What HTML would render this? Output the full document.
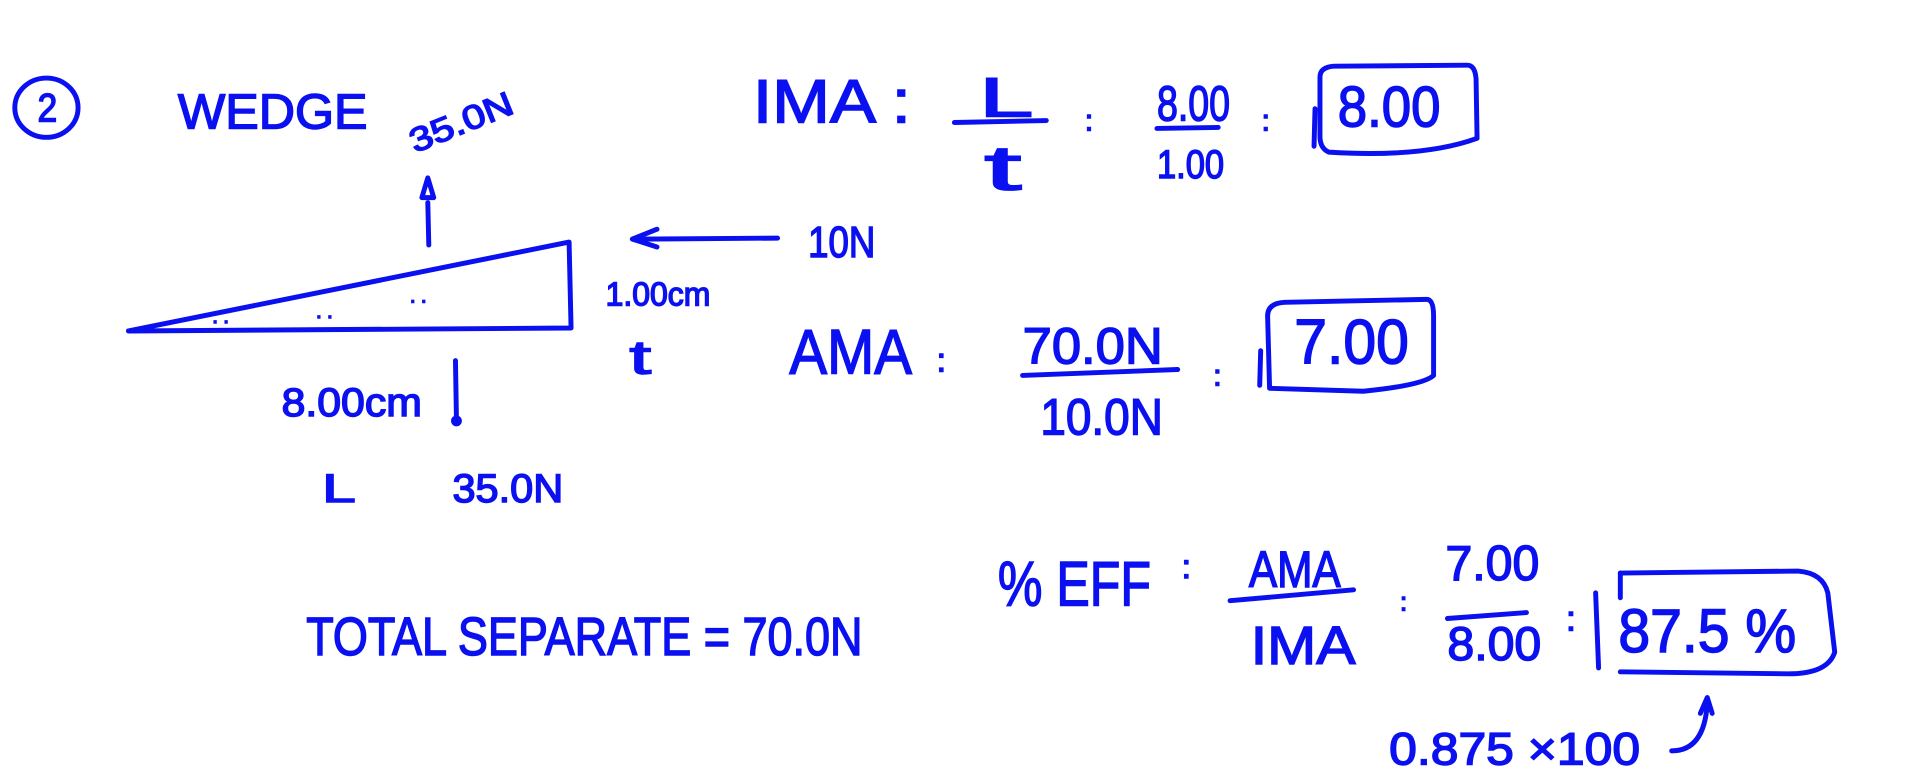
<!DOCTYPE html>
<html><head><meta charset="utf-8"><style>
html,body{margin:0;padding:0;background:#fff;width:1920px;height:780px;overflow:hidden}
svg text{font-family:"Liberation Sans Narrow","Liberation Sans",sans-serif;fill:#0a10f0;stroke:#0a10f0;stroke-width:1.5}
</style></head><body>
<svg width="1920" height="780" viewBox="0 0 1920 780" xmlns="http://www.w3.org/2000/svg">
<g transform="scale(0.988)">
<g fill="none" stroke="#0a10f0" stroke-width="5" stroke-linecap="round" stroke-linejoin="round">
<ellipse cx="47" cy="109" rx="32" ry="30"/>
<line x1="434" y1="248" x2="433" y2="205"/>
<path d="M427 200 L433 180 L439 200 Z"/>
<path d="M130 335 L576 245 L578 332 Z"/>
<line x1="648" y1="242" x2="787" y2="241"/>
<path d="M665 232 L640 242 L665 250"/>
<line x1="461" y1="365" x2="462" y2="425"/>
<circle cx="462" cy="426" r="3"/>
<line x1="966" y1="124" x2="1059" y2="122"/>
<line x1="1171" y1="130" x2="1233" y2="129"/>
<line x1="1035" y1="380" x2="1192" y2="374"/>
<line x1="1245" y1="608" x2="1370" y2="597"/>
<line x1="1465" y1="626" x2="1545" y2="620"/>
<path d="M1336 78 Q1336 68 1350 67 L1485 66 Q1493 66 1494 80 L1495 140 Q1440 160 1345 154 Q1336 150 1336 138 Z"/>
<line x1="1331" y1="110" x2="1330" y2="148"/>
<path d="M1283 320 Q1283 307 1300 306 L1444 303 Q1451 303 1451 320 L1451 380 Q1440 390 1380 396 L1285 393 Z"/>
<line x1="1276" y1="355" x2="1275" y2="390"/>
<path d="M1640 580 L1820 578 Q1845 580 1850 600 L1857 660 Q1850 682 1810 682 L1640 680"/>
<path d="M1640 580 L1640 605"/>
<line x1="1615" y1="600" x2="1618" y2="676"/>
<path d="M1728 712 Q1725 760 1692 760"/>
<path d="M1721 722 L1728 706 L1733 722"/>
</g>
<text x="38" y="123" font-size="40" textLength="20" lengthAdjust="spacingAndGlyphs">2</text>
<text x="180" y="130" font-size="50" textLength="192" lengthAdjust="spacingAndGlyphs">WEDGE</text>
<text x="0" y="0" font-size="34" textLength="110" lengthAdjust="spacingAndGlyphs" transform="translate(420,155) rotate(-22)">35.0N</text>
<text x="818" y="260" font-size="44" textLength="68" lengthAdjust="spacingAndGlyphs">10N</text>
<text x="613" y="309" font-size="34" textLength="106" lengthAdjust="spacingAndGlyphs">1.00cm</text>
<text x="215" y="327" font-size="20">. .</text><text x="320" y="322" font-size="20">.   .</text><text x="415" y="306" font-size="20">. .</text>
<text x="637" y="378" font-size="48" textLength="22" lengthAdjust="spacingAndGlyphs">t</text>
<text x="285" y="421" font-size="40" textLength="142" lengthAdjust="spacingAndGlyphs">8.00cm</text>
<text x="326" y="508" font-size="40" textLength="34" lengthAdjust="spacingAndGlyphs">L</text>
<text x="458" y="508" font-size="40" textLength="112" lengthAdjust="spacingAndGlyphs">35.0N</text>
<text x="310" y="663" font-size="54" textLength="563" lengthAdjust="spacingAndGlyphs">TOTAL SEPARATE = 70.0N</text>
<text x="762" y="124" font-size="62" textLength="160" lengthAdjust="spacingAndGlyphs">IMA :</text>
<text x="991" y="118" font-size="56" textLength="55" lengthAdjust="spacingAndGlyphs">L</text>
<text x="996" y="192" font-size="64" textLength="38" lengthAdjust="spacingAndGlyphs">t</text>
<text x="1098" y="132" font-size="30">:</text>
<text x="1171" y="122" font-size="50" textLength="74" lengthAdjust="spacingAndGlyphs">8.00</text>
<text x="1171" y="180" font-size="40" textLength="68" lengthAdjust="spacingAndGlyphs">1.00</text>
<text x="1277" y="132" font-size="30">:</text>
<text x="1354" y="128" font-size="58" textLength="104" lengthAdjust="spacingAndGlyphs">8.00</text>
<text x="799" y="378" font-size="64" textLength="124" lengthAdjust="spacingAndGlyphs">AMA</text>
<text x="948" y="376" font-size="34">:</text>
<text x="1035" y="368" font-size="52" textLength="142" lengthAdjust="spacingAndGlyphs">70.0N</text>
<text x="1053" y="440" font-size="52" textLength="124" lengthAdjust="spacingAndGlyphs">10.0N</text>
<text x="1228" y="390" font-size="30">:</text>
<text x="1310" y="368" font-size="64" textLength="116" lengthAdjust="spacingAndGlyphs">7.00</text>
<text x="1010" y="613" font-size="64" textLength="155" lengthAdjust="spacingAndGlyphs">% EFF</text>
<text x="1196" y="585" font-size="34">:</text>
<text x="1264" y="594" font-size="52" textLength="93" lengthAdjust="spacingAndGlyphs">AMA</text>
<text x="1266" y="672" font-size="54" textLength="106" lengthAdjust="spacingAndGlyphs">IMA</text>
<text x="1417" y="618" font-size="26">:</text>
<text x="1463" y="587" font-size="50" textLength="95" lengthAdjust="spacingAndGlyphs">7.00</text>
<text x="1465" y="668" font-size="48" textLength="95" lengthAdjust="spacingAndGlyphs">8.00</text>
<text x="1585" y="638" font-size="36">:</text>
<text x="1638" y="660" font-size="62" textLength="180" lengthAdjust="spacingAndGlyphs">87.5 %</text>
<text x="1406" y="774" font-size="46" textLength="254" lengthAdjust="spacingAndGlyphs">0.875 ×100</text>
</g>
</svg>
</body></html>
